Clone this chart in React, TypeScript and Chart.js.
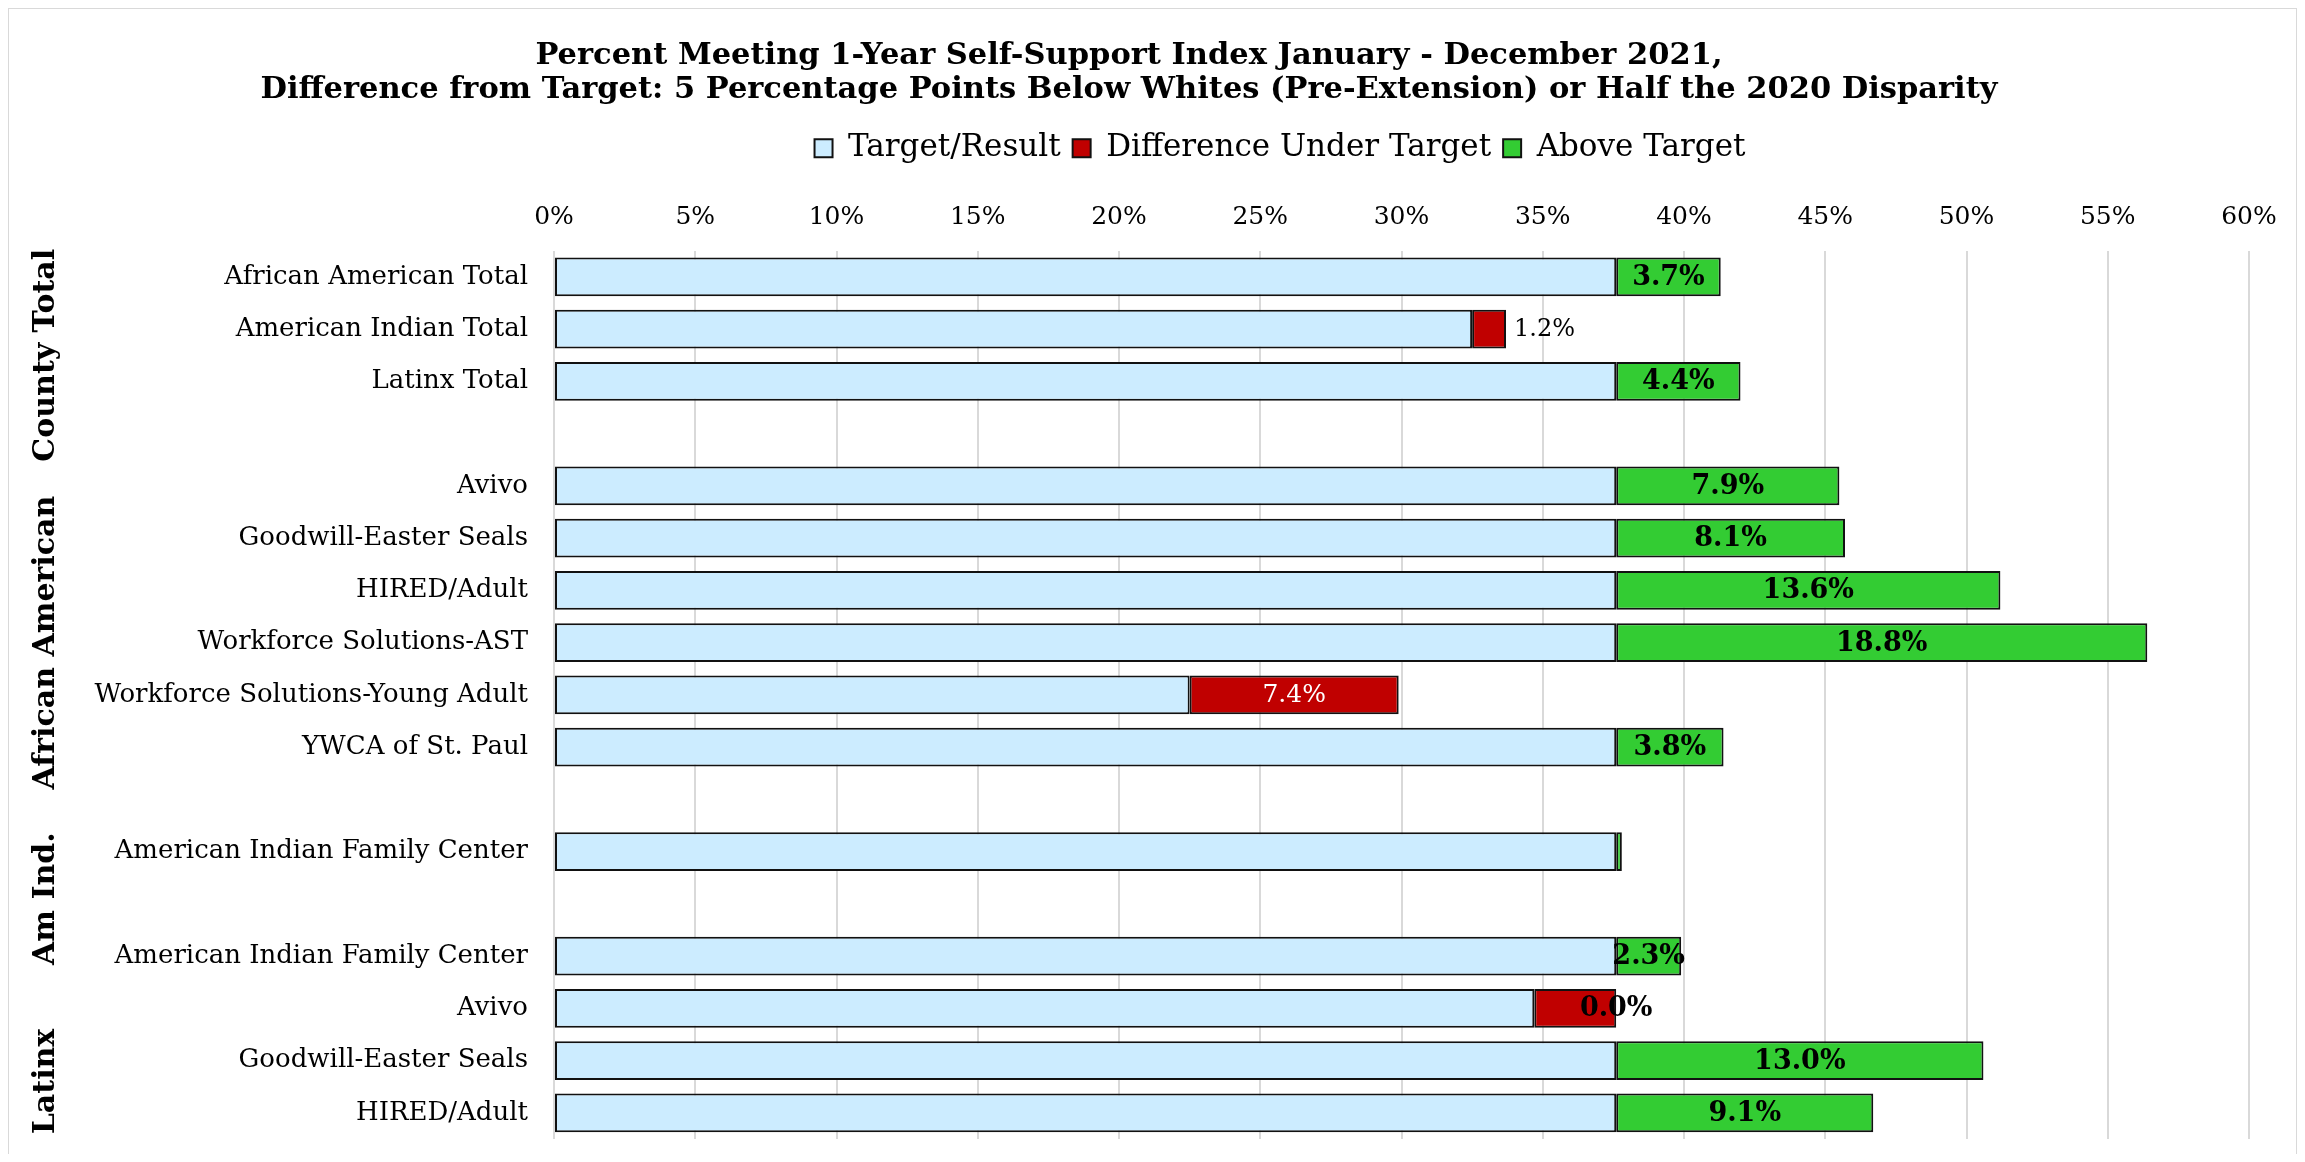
import React, { useEffect, useRef } from 'react';
import { Chart, registerables } from 'chart.js';

Chart.register(...registerables);

const categories = [
  'African American Total',
  'American Indian Total',
  'Latinx Total',
  '',
  'Avivo',
  'Goodwill-Easter Seals',
  'HIRED/Adult',
  'Workforce Solutions-AST',
  'Workforce Solutions-Young Adult',
  'YWCA of St. Paul',
  '',
  'American Indian Family Center',
  '',
  'American Indian Family Center',
  'Avivo',
  'Goodwill-Easter Seals',
  'HIRED/Adult',
];

const targetResult = [37.6, 32.5, 37.6, null, 37.6, 37.6, 37.6, 37.6, 22.5, 37.6, null, 37.6, null, 37.6, 34.7, 37.6, 37.6];
const underTarget = [null, 1.2, null, null, null, null, null, null, 7.4, null, null, null, null, null, 2.9, null, null];
const aboveTarget = [3.7, null, 4.4, null, 7.9, 8.1, 13.6, 18.8, null, 3.8, null, 0.2, null, 2.3, 0.0, 13.0, 9.1];

const groupNames = ['County Total', 'African American', 'Am Ind.', 'Latinx'];
const groupCenters = [1.5, 7, 11.9, 15.4];

const hiddenUnderLabels = [14];
const hiddenAboveLabels = [11];
const outsideUnderLabels = [1];

const titleLines = [
  'Percent Meeting 1-Year Self-Support Index January - December 2021,',
  'Difference from Target: 5 Percentage Points Below Whites (Pre-Extension) or Half the 2020 Disparity',
];

const FONT = "'DejaVu Serif', serif";
const LEGEND_SHIFT = 151;

const labelPlugin = {
  id: 'barLabels',
  afterLayout(chart: any) {
    const lg = chart.legend;
    if (lg) {
      lg.left += LEGEND_SHIFT;
      lg.right += LEGEND_SHIFT;
    }
  },
  afterDatasetsDraw(chart: any) {
    const ctx = chart.ctx;
    ctx.save();
    ctx.textBaseline = 'middle';
    const m1 = chart.getDatasetMeta(1);
    m1.data.forEach((el: any, i: number) => {
      const v = underTarget[i];
      if (v === null || hiddenUnderLabels.includes(i)) return;
      const txt = v.toFixed(1) + '%';
      if (outsideUnderLabels.includes(i)) {
        ctx.font = `24px ${FONT}`;
        ctx.fillStyle = '#000';
        ctx.textAlign = 'left';
        ctx.fillText(txt, el.x + 8, el.y + 1);
      } else {
        ctx.font = `25px ${FONT}`;
        ctx.fillStyle = '#fff';
        ctx.textAlign = 'center';
        ctx.fillText(txt, (el.x + el.base) / 2, el.y + 1);
      }
    });
    const m2 = chart.getDatasetMeta(2);
    m2.data.forEach((el: any, i: number) => {
      const v = aboveTarget[i];
      if (v === null || hiddenAboveLabels.includes(i)) return;
      const txt = v.toFixed(1) + '%';
      ctx.font = `bold 27px ${FONT}`;
      ctx.fillStyle = '#000';
      ctx.textAlign = 'center';
      ctx.fillText(txt, (el.x + el.base) / 2, el.y + 1);
    });
    ctx.restore();
  },
  afterDraw(chart: any) {
    const ctx = chart.ctx;
    const y = chart.scales.y;
    ctx.save();
    ctx.font = `bold 30px ${FONT}`;
    ctx.fillStyle = '#000';
    ctx.textAlign = 'center';
    ctx.textBaseline = 'middle';
    groupNames.forEach((g, i) => {
      const py = y.getPixelForValue(groupCenters[i]);
      ctx.save();
      ctx.translate(37, py);
      ctx.rotate(-Math.PI / 2);
      ctx.fillText(g, 0, 0);
      ctx.restore();
    });
    ctx.restore();
  },
};

export default function App() {
  const ref = useRef<HTMLCanvasElement>(null);
  useEffect(() => {
    if (!ref.current) return;
    Chart.defaults.color = '#000';
    Chart.defaults.font.family = FONT;
    const chart = new Chart(ref.current, {
      type: 'bar',
      data: {
        labels: categories,
        datasets: [
          {
            label: 'Target/Result',
            data: targetResult,
            backgroundColor: '#CCECFF',
            borderColor: '#111',
            borderWidth: 2,
            borderSkipped: false,
          },
          {
            label: 'Difference Under Target',
            data: underTarget,
            backgroundColor: '#C00000',
            borderColor: '#111',
            borderWidth: 2,
            borderSkipped: false,
          },
          {
            label: 'Above Target',
            data: aboveTarget,
            backgroundColor: '#33CC33',
            borderColor: '#111',
            borderWidth: 2,
            borderSkipped: false,
          },
        ] as any,
      },
      options: {
        indexAxis: 'y',
        animation: false,
        responsive: true,
        maintainAspectRatio: false,
        datasets: { bar: { categoryPercentage: 1, barPercentage: 0.74 } },
        layout: { padding: { left: 0, right: 47, top: 0, bottom: 15 } },
        plugins: {
          title: {
            display: true,
            text: titleLines,
            font: { size: 30.5, weight: 'bold', family: FONT, lineHeight: 1.11 },
            color: '#000',
            padding: { top: 30, bottom: 14 },
          },
          legend: {
            display: true,
            position: 'top',
            labels: {
              font: { size: 31, family: FONT },
              color: '#000',
              boxWidth: 18,
              boxHeight: 18,
              padding: 12,
            },
          },
          tooltip: { enabled: false },
        },
        scales: {
          x: {
            position: 'top',
            stacked: true,
            min: 0,
            max: 60,
            ticks: {
              stepSize: 5,
              callback: (v: any) => v + '%',
              font: { size: 25, family: FONT },
              color: '#000',
              padding: 18,
            },
            grid: { color: '#d9d9d9', lineWidth: 2, drawTicks: false },
            border: { display: false },
            afterFit: (s: any) => {
              s.height += 11;
            },
          },
          y: {
            stacked: true,
            ticks: {
              font: { size: 26, family: FONT },
              color: '#000',
              padding: 26,
              autoSkip: false,
            },
            grid: { display: false, drawTicks: false },
            border: { display: false },
            afterFit: (s: any) => {
              s.width = 545;
              s.paddingTop = 0;
              s.paddingBottom = 0;
            },
          },
        },
      } as any,
      plugins: [labelPlugin],
    });
    return () => chart.destroy();
  }, []);
  return (
    <div
      style={{
        position: 'relative',
        width: 2289,
        height: 1146,
        boxSizing: 'border-box',
        borderTop: '1px solid #d9d9d9',
        borderLeft: '1px solid #d9d9d9',
        borderRight: '1px solid #d9d9d9',
        background: '#fff',
      }}
    >
      <canvas ref={ref} />
    </div>
  );
}
